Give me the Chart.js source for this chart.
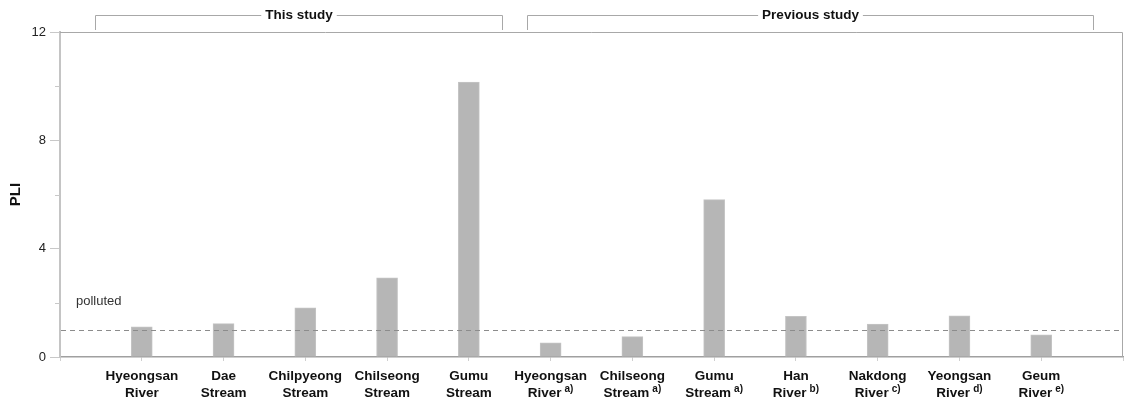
<!DOCTYPE html>
<html>
<head>
<meta charset="utf-8">
<script src="https://cdn.jsdelivr.net/npm/chart.js@4/dist/chart.umd.min.js"></script>
<style>
  html, body { margin: 0; padding: 0; background: #fff; }
  #wrap { width: 1125px; height: 398px; }
</style>
</head>
<body>
<div id="wrap"><canvas id="c" width="1125" height="398"></canvas></div>
<script>
// Sampling sites (two-line labels) and literature reference marks
const sites = [
  ['Hyeongsan', 'River'], ['Dae', 'Stream'], ['Chilpyeong', 'Stream'], ['Chilseong', 'Stream'],
  ['Gumu', 'Stream'], ['Hyeongsan', 'River'], ['Chilseong', 'Stream'], ['Gumu', 'Stream'],
  ['Han', 'River'], ['Nakdong', 'River'], ['Yeongsan', 'River'], ['Geum', 'River']
];
const refNotes = ['', '', '', '', '', 'a)', 'a)', 'a)', 'b)', 'c)', 'd)', 'e)'];

// Pollution load index per site
const pliValues = [1.11, 1.23, 1.82, 2.92, 10.15, 0.52, 0.75, 5.81, 1.50, 1.22, 1.52, 0.82];

// Y axis
const yMin = 0;
const yMax = 12;
const yLabelStep = 4;
const yMinorTicks = [2, 6, 10];

// PLI = 1 separates unpolluted from polluted
const pollutedThreshold = 1;
const pollutedLabel = 'polluted';

// Study groups shown as brackets above the plot (in category units)
const groups = [
  { label: 'This study', from: -0.57, to: 4.4 },
  { label: 'Previous study', from: 4.71, to: 11.63 }
];

const FONT = '"Liberation Sans", Arial, Helvetica, sans-serif';

// One empty slot on each side keeps a gap between the frame and the first/last bar
const xLabels = ['', ...sites.map(s => s.join(' ')), ''];
const xData = [null, ...pliValues, null];

const decor = {
  id: 'decor',
  afterDatasetsDraw(chart) {
    const { ctx, chartArea: a, scales: { x, y } } = chart;
    ctx.save();

    // top and right frame
    ctx.strokeStyle = '#a8a8a8';
    ctx.lineWidth = 1;
    ctx.beginPath();
    ctx.moveTo(a.left, a.top + 0.5);
    ctx.lineTo(a.right - 0.5, a.top + 0.5);
    ctx.lineTo(a.right - 0.5, a.bottom);
    ctx.stroke();

    // minor y tick marks
    ctx.strokeStyle = '#c8c8c8';
    for (const v of yMinorTicks) {
      const py = Math.round(y.getPixelForValue(v)) + 0.5;
      ctx.beginPath();
      ctx.moveTo(a.left - 5, py);
      ctx.lineTo(a.left, py);
      ctx.stroke();
    }

    // threshold line
    const ty = Math.round(y.getPixelForValue(pollutedThreshold)) + 0.5;
    ctx.strokeStyle = '#8c8c8c';
    ctx.setLineDash([5, 4]);
    ctx.beginPath();
    ctx.moveTo(a.left + 1, ty);
    ctx.lineTo(a.right - 1, ty);
    ctx.stroke();
    ctx.setLineDash([]);

    ctx.fillStyle = '#333';
    ctx.font = '13px ' + FONT;
    ctx.textAlign = 'left';
    ctx.textBaseline = 'middle';
    ctx.fillText(pollutedLabel, a.left + 16, ty - 29);
    ctx.restore();
  },
  afterDraw(chart) {
    const { ctx, chartArea: a, scales: { x } } = chart;
    ctx.save();

    // category labels with superscript reference marks
    const mainFont = 'bold 13.5px ' + FONT;
    const supFont = 'bold 10px ' + FONT;
    ctx.fillStyle = '#111';
    ctx.textBaseline = 'alphabetic';
    sites.forEach((lines, i) => {
      const px = x.getPixelForValue(i + 1);
      ctx.font = mainFont;
      ctx.textAlign = 'center';
      ctx.fillText(lines[0], px, a.bottom + 23);
      const w2 = ctx.measureText(lines[1]).width;
      const note = refNotes[i];
      ctx.font = supFont;
      const ws = note ? ctx.measureText(note).width + 3 : 0;
      const start = px - (w2 + ws) / 2;
      ctx.font = mainFont;
      ctx.textAlign = 'left';
      ctx.fillText(lines[1], start, a.bottom + 39.5);
      if (note) {
        ctx.font = supFont;
        ctx.fillText(note, start + w2 + 3, a.bottom + 35);
      }
    });

    // group brackets
    const by = 15.5;
    ctx.strokeStyle = '#a8a8a8';
    ctx.lineWidth = 1;
    ctx.font = 'bold 13.5px ' + FONT;
    ctx.textAlign = 'center';
    ctx.textBaseline = 'middle';
    for (const g of groups) {
      const x0 = Math.round(x.getPixelForValue(g.from + 1)) + 0.5;
      const x1 = Math.round(x.getPixelForValue(g.to + 1)) + 0.5;
      const cx = (x0 + x1) / 2;
      const tw = ctx.measureText(g.label).width;
      ctx.beginPath();
      ctx.moveTo(x0, 30);
      ctx.lineTo(x0, by);
      ctx.lineTo(cx - tw / 2 - 4, by);
      ctx.moveTo(cx + tw / 2 + 4, by);
      ctx.lineTo(x1, by);
      ctx.lineTo(x1, 30);
      ctx.stroke();
      ctx.fillStyle = '#111';
      ctx.fillText(g.label, cx, by);
    }
    ctx.restore();
  }
};

new Chart(document.getElementById('c'), {
  type: 'bar',
  data: {
    labels: xLabels,
    datasets: [{
      data: xData,
      backgroundColor: '#b6b6b6',
      borderColor: '#c4c4c4',
      borderWidth: 1,
      barThickness: 21
    }]
  },
  options: {
    responsive: false,
    animation: false,
    layout: { padding: { top: 32, right: 2, left: 0, bottom: 0 } },
    plugins: { legend: { display: false }, tooltip: { enabled: false } },
    scales: {
      x: {
        offset: false,
        grid: { display: true, offset: false, drawOnChartArea: false, drawTicks: true, tickLength: 4, color: '#cfcfcf' },
        border: { display: true, color: '#a0a0a0', width: 1.5 },
        ticks: { display: false },
        afterFit(scale) { scale.height = 41; }
      },
      y: {
        min: yMin,
        max: yMax,
        grid: { display: true, drawOnChartArea: false, drawTicks: true, tickLength: 10, color: '#c8c8c8' },
        border: { display: true, color: '#c4c4c4', width: 2 },
        ticks: {
          stepSize: yLabelStep,
          padding: 4,
          color: '#222',
          font: { family: FONT, size: 13 }
        },
        title: {
          display: true,
          text: 'PLI',
          color: '#111',
          font: { family: FONT, size: 15, weight: 'bold' },
          padding: { top: 7, bottom: 0 }
        },
        afterFit(scale) { scale.width = 60; }
      }
    }
  },
  plugins: [decor]
});
</script>
</body>
</html>
